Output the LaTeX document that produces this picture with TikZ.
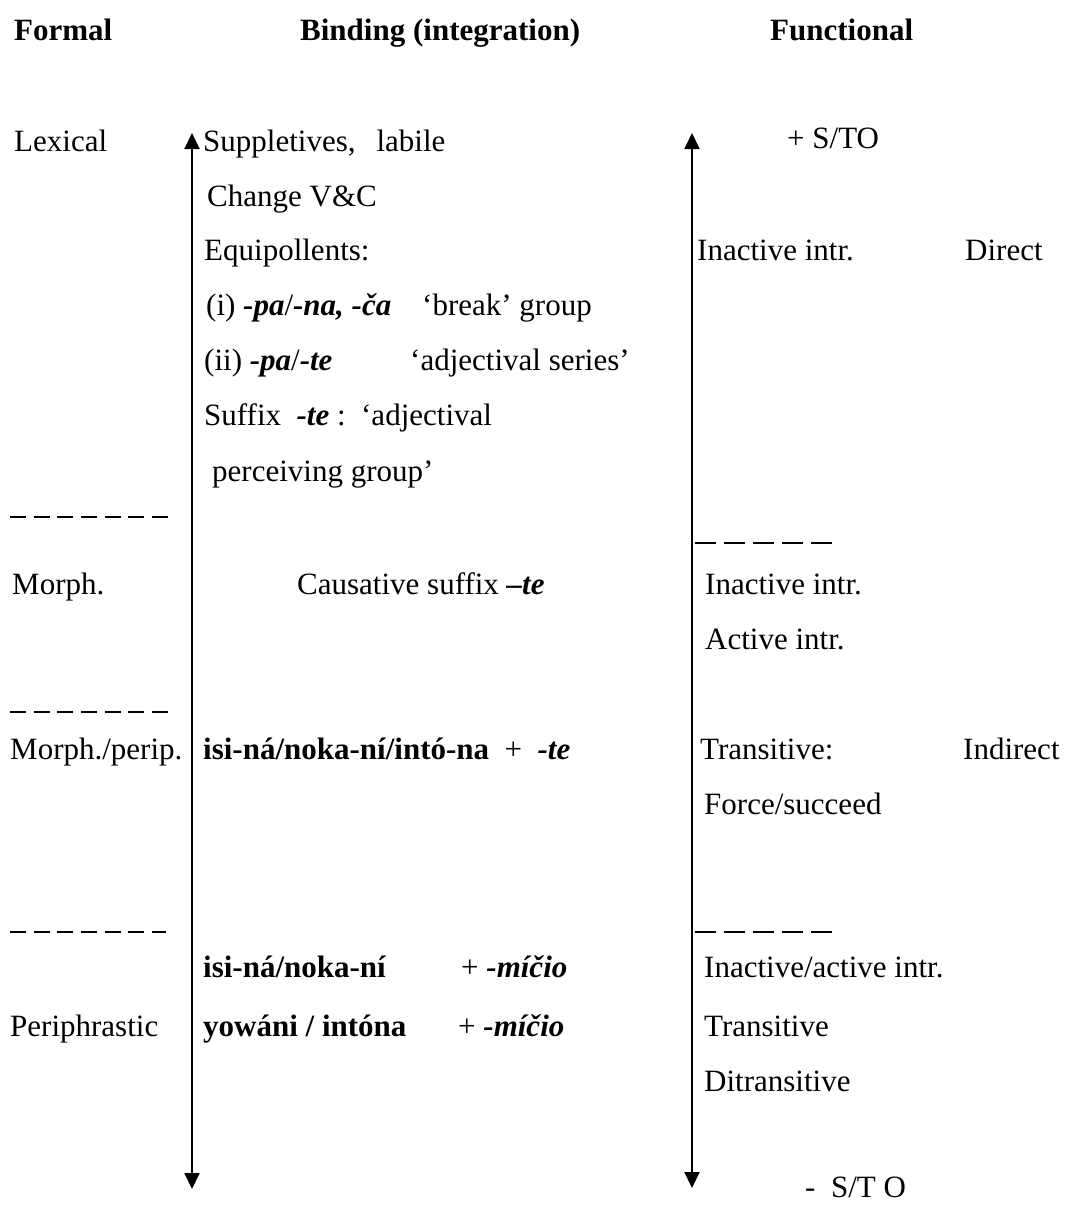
\documentclass[tikz,border=0pt]{standalone}
\usepackage{fontspec}
\setmainfont{Liberation Serif}
\usetikzlibrary{arrows.meta}
\newcommand\bdit[1]{\textbf{\textit{#1}}}
\begin{document}
\begin{tikzpicture}[x=1pt,y=-1pt,
  txt/.style={anchor=base west, inner sep=0pt, font=\fontsize{31}{37}\selectfont},
  hd/.style={txt, font=\fontsize{31}{37}\selectfont\bfseries},
  axis/.style={line width=2pt, {Triangle[width=15pt,length=16pt]}-{Triangle[width=15pt,length=16pt]}},
  sepline/.style={line width=1.5pt, dash pattern=on 16pt off 7.67pt},
  sepright/.style={line width=1.5pt, dash pattern=on 21pt off 8pt}]
\useasboundingbox (0,0) rectangle (1067,1205);
% headers
\node[hd] (hformal) at (14,40) {Formal};
\node[hd] (hbind) at (300,40) {Binding (integration)};
\node[hd] (hfunc) at (770,40) {Functional};
% formal column
\node[txt] (lex) at (14,151) {Lexical};
\node[txt] (morph) at (12,594) {Morph.};
\node[txt] (mp) at (10,759) {Morph./perip.};
\node[txt] (peri) at (10,1036) {Periphrastic};
% separators
\coordinate (d1a) at (10,517); \coordinate (d1b) at (168,517);
\coordinate (d2a) at (10,712); \coordinate (d2b) at (168,712);
\coordinate (d3a) at (10,932); \coordinate (d3b) at (166,932);
\coordinate (r1a) at (695,543); \coordinate (r1b) at (832,543);
\coordinate (r2a) at (695,932); \coordinate (r2b) at (832,932);
\draw[sepline] (d1a) -- (d1b);
\draw[sepline] (d2a) -- (d2b);
\draw[sepline] (d3a) -- (d3b);
\draw[sepright] (r1a) -- (r1b);
\draw[sepright] (r2a) -- (r2b);
% axes
\coordinate (la1) at (192,1189); \coordinate (la2) at (192,133);
\coordinate (ra1) at (692,1188); \coordinate (ra2) at (692,133);
\draw[axis] (la1) -- (la2);
\draw[axis] (ra1) -- (ra2);
% binding column
\node[txt] (b1) at (203,151) {Suppletives,\hspace{21pt}labile};
\node[txt] (b2) at (207,206) {Change V\&C};
\node[txt] (b3) at (204,260) {Equipollents:};
\node[txt] (b4) at (206,315) {(i) \bdit{-pa}/\bdit{-na,} \bdit{-ča}};
\node[txt] (b4q) at (422,315) {‘break’ group};
\node[txt] (b5) at (204,370) {(ii) \bdit{-pa}/\bdit{-te}};
\node[txt] (b5q) at (410,370) {‘adjectival series’};
\node[txt] (b6) at (204,425) {Suffix~~\bdit{-te} :~~‘adjectival};
\node[txt] (b7) at (212,481) {perceiving group’};
\node[txt] (c1) at (297,594) {Causative suffix \bdit{–te}};
\node[txt] (i1) at (203,759) {\textbf{isi-ná/noka-ní/intó-na}~~+~~\bdit{-te}};
\node[txt] (i2) at (203,977) {\textbf{isi-ná/noka-ní}};
\node[txt] (i2p) at (461,977) {+ \bdit{-míčio}};
\node[txt] (y1) at (203,1036) {\textbf{yowáni / intóna}};
\node[txt] (y1p) at (458,1036) {+ \bdit{-míčio}};
% functional column
\node[txt] (f0) at (787,148) {+ S/TO};
\node[txt] (f1) at (697,260) {Inactive intr.};
\node[txt] (f1d) at (965,260) {Direct};
\node[txt] (f2) at (705,594) {Inactive intr.};
\node[txt] (f3) at (705,649) {Active intr.};
\node[txt] (f4) at (700,759) {Transitive:};
\node[txt] (f4i) at (963,759) {Indirect};
\node[txt] (f5) at (704,814) {Force/succeed};
\node[txt] (f6) at (704,977) {Inactive/active intr.};
\node[txt] (f7) at (704,1036) {Transitive};
\node[txt] (f8) at (704,1091) {Ditransitive};
\node[txt] (f9) at (805,1197) {-~~S/T O};
\end{tikzpicture}
\end{document}
